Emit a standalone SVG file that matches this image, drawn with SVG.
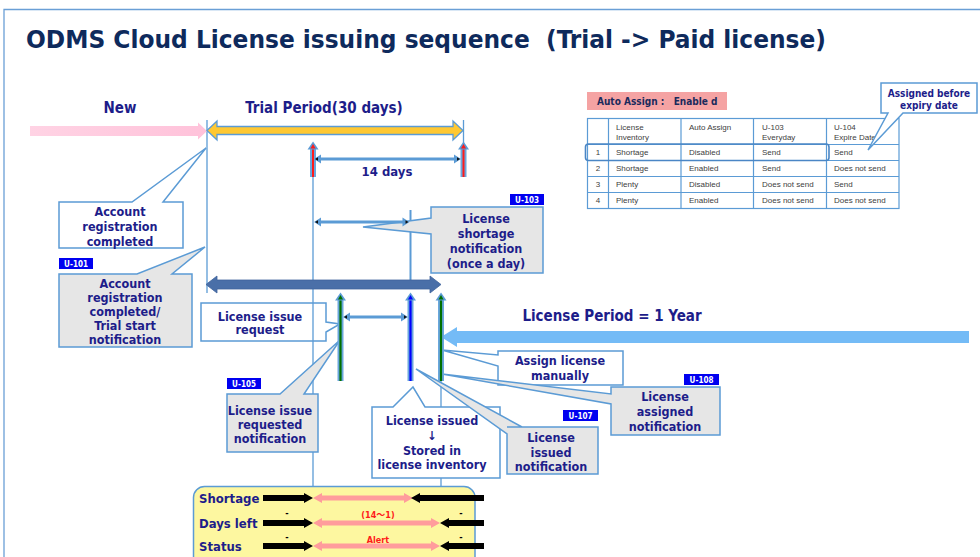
<svg xmlns="http://www.w3.org/2000/svg" width="980" height="557" viewBox="0 0 980 557">
<defs>
<style>
.t{font-family:"DejaVu Sans Condensed","DejaVu Sans",sans-serif;font-weight:bold;fill:#1d1d8a;text-anchor:middle}
.c{font-size:12.5px}
.h{font-size:15px}
.cw{fill:#fff;stroke:#5b9bd5;stroke-width:1.5}
.cg{fill:#e6e6e6;stroke:#5b9bd5;stroke-width:1.5}
.bd{fill:#0000f0}
.bt{font-family:"DejaVu Sans Condensed","DejaVu Sans",sans-serif;font-weight:bold;font-size:8px;fill:#fff;text-anchor:middle}
.ln{stroke:#5b9bd5;stroke-width:1.3;fill:none}
.hl{stroke:#5b9bd5;stroke-width:3;fill:none}
.ah{fill:#5b9bd5}
.tip{fill:#111}
.sh{fill:#6aa6dc}
.tb{font-family:"Liberation Sans",Arial,sans-serif;font-size:8px;fill:#404040}
.grid{stroke:#5b9bd5;stroke-width:1.2;fill:none}
.blk{fill:#000}
.pk{fill:#ff9c9c}
.rt{font-family:"DejaVu Sans Condensed","DejaVu Sans","Noto Sans CJK JP",sans-serif;font-weight:bold;font-size:9px;fill:#ff1a1a;text-anchor:middle}
.row{font-family:"DejaVu Sans Condensed","DejaVu Sans",sans-serif;font-weight:bold;font-size:13px;fill:#1d1d8a}
</style>
<linearGradient id="pg" x1="0" y1="0" x2="1" y2="0"><stop offset="0" stop-color="#ffd3e4"/><stop offset="1" stop-color="#ffc2da"/></linearGradient>
</defs>
<rect x="0" y="0" width="980" height="557" fill="#fff"/>
<path d="M4,557 V9.5 H980" stroke="#6a9fd6" stroke-width="1.3" fill="none"/>
<text x="26" y="48" font-family="'DejaVu Sans Condensed','DejaVu Sans',sans-serif" font-weight="bold" font-size="24" fill="#0e2a5c" textLength="800" lengthAdjust="spacingAndGlyphs" xml:space="preserve">ODMS Cloud License issuing sequence  (Trial -&gt; Paid license)</text>

<text class="t h" x="120" y="113">New</text>
<text class="t h" x="324" y="113">Trial Period(30 days)</text>
<text class="t h" x="612" y="321">License Period = 1 Year</text>
<text class="t" x="387" y="176" font-size="13">14 days</text>

<g id="connectors">
  <line class="ln" x1="207" y1="120" x2="207" y2="293"/>
  <line class="ln" x1="463.5" y1="120" x2="463.5" y2="177"/>
  <line class="ln" x1="313" y1="148" x2="313" y2="487"/>
  <line class="ln" x1="441" y1="300" x2="441" y2="487"/>
  <line x1="410.5" y1="210" x2="410.5" y2="281" stroke="#5b9bd5" stroke-width="2"/>
  <polygon points="30,126 198,126 198,122.5 207,131 198,139.5 198,136 30,136" fill="url(#pg)"/>
  <polygon points="207,130.5 217,121 217,126.5 453,126.5 453,121 463,130.5 453,140 453,134.5 217,134.5 217,140" fill="#ffc832" stroke="#5b9bd5" stroke-width="1.3"/>
  <polygon points="206,284.5 217,276 217,280 430,280 430,276 441,284.5 430,293 430,289 217,289 217,293" fill="#4a6fa8" stroke="#3f639c" stroke-width="0.8"/>
  <polygon points="441,337 457,327 457,331 969,331 969,343 457,343 457,347" fill="#74bbf6"/>
</g>

<g id="u101"><rect class="bd" x="59" y="258" width="34" height="11"/><text class="bt" x="76" y="266.5">U-101</text></g>
<g id="u103"><rect class="bd" x="510" y="194" width="34" height="11"/><text class="bt" x="527" y="202.5">U-103</text></g>
<g id="u105"><rect class="bd" x="227" y="378" width="34" height="11"/><text class="bt" x="244" y="386.5">U-105</text></g>
<g id="u107"><rect class="bd" x="563" y="410" width="35" height="11"/><text class="bt" x="580.5" y="418.5">U-107</text></g>
<g id="u108"><rect class="bd" x="684" y="374" width="35" height="11"/><text class="bt" x="701.5" y="382.5">U-108</text></g>

<g id="acct-reg">
  <path class="cw" d="M59,202 H132 L206,148 L163,202 H183 V248 H59 Z"/>
  <text class="t c" x="120" y="216">Account</text>
  <text class="t c" x="120" y="231">registration</text>
  <text class="t c" x="120" y="245.5">completed</text>
</g>
<g id="trial-start">
  <path class="cg" d="M59,274 H137 L205,247 L172,274 H192 V347 H59 Z"/>
  <text class="t c" x="125" y="288">Account</text>
  <text class="t c" x="125" y="302">registration</text>
  <text class="t c" x="125" y="316">completed/</text>
  <text class="t c" x="125" y="330">Trial start</text>
  <text class="t c" x="125" y="344">notification</text>
</g>
<g id="shortage-notif">
  <path class="cg" d="M431,207 H543 V273 H431 V234 L363,227 L431,218 Z"/>
  <text class="t c" x="486" y="223">License</text>
  <text class="t c" x="486" y="238">shortage</text>
  <text class="t c" x="486" y="253">notification</text>
  <text class="t c" x="486" y="268">(once a day)</text>
</g>
<g id="issue-request">
  <path class="cw" d="M201,303 H326 V322 L340,324 L326,332 V341 H201 Z"/>
  <line class="ln" x1="313" y1="303" x2="313" y2="341"/>
  <text class="t c" x="260" y="320.5">License issue</text>
  <text class="t c" x="260" y="334">request</text>
</g>
<g id="issue-requested-notif">
  <path class="cg" d="M227,394 H280 L340,340 L304,394 H318 V452 H227 Z"/>
  <text class="t c" x="270" y="414.5">License issue</text>
  <text class="t c" x="270" y="428.5">requested</text>
  <text class="t c" x="270" y="443">notification</text>
</g>
<g id="license-issued">
  <path class="cw" d="M372,407 H393 L413,387 L425,407 H500 V478 H372 Z"/>
  <text class="t c" x="432" y="425">License issued</text>
  <text class="t c" x="432" y="440">↓</text>
  <text class="t c" x="432" y="454.5">Stored in</text>
  <text class="t c" x="432" y="469">license inventory</text>
</g>
<g id="issued-notif">
  <path class="cg" d="M507,427 H598 V474 H507 V434 L416,369 L522,427 Z"/>
  <text class="t c" x="551" y="442">License</text>
  <text class="t c" x="551" y="456.5">issued</text>
  <text class="t c" x="551" y="471">notification</text>
</g>
<g id="assign-manually">
  <path class="cw" d="M498,351 H623 V385 H498 V366 L442,350 L498,355 Z"/>
  <text class="t c" x="560" y="365">Assign license</text>
  <text class="t c" x="560" y="380">manually</text>
</g>
<g id="assigned-notif">
  <path class="cg" d="M611,387 H720 V435 H611 V404 L442,374 L611,394 Z"/>
  <text class="t c" x="665" y="401">License</text>
  <text class="t c" x="665" y="416">assigned</text>
  <text class="t c" x="665" y="430.5">notification</text>
</g>

<g id="arrows">
  <rect class="sh" x="310" y="148" width="6" height="29"/><line x1="313" y1="146" x2="313" y2="177" stroke="#ff1a1a" stroke-width="2"/>
  <polygon class="ah" points="307.5,149.5 313,141.5 318.5,149.5"/><polygon points="310.5,148.5 313,144 315.5,148.5" fill="#ff1a1a"/>
  <rect class="sh" x="460.5" y="148" width="6" height="29"/><line x1="463.5" y1="146" x2="463.5" y2="177" stroke="#ff1a1a" stroke-width="2"/>
  <polygon class="ah" points="458,149.5 463.5,141.5 469,149.5"/><polygon points="461,148.5 463.5,144 466,148.5" fill="#ff1a1a"/>
  <line class="hl" x1="318" y1="159" x2="457" y2="159"/>
  <polygon class="ah" points="314,159 321,154.5 321,163.5"/><polygon class="tip" points="315,159 318,157.3 318,160.7"/>
  <polygon class="ah" points="461,159 454,154.5 454,163.5"/><polygon class="tip" points="460,159 457,157.3 457,160.7"/>
  <line class="hl" x1="318" y1="222" x2="405" y2="222"/>
  <polygon class="ah" points="314,222 321,217.5 321,226.5"/><polygon class="tip" points="315,222 318,220.3 318,223.7"/>
  <polygon class="ah" points="409.5,222 402.5,217.5 402.5,226.5"/><polygon class="tip" points="408.5,222 405.5,220.3 405.5,223.7"/>
  <rect class="sh" x="337.5" y="299" width="6" height="82"/><line x1="340.5" y1="297" x2="340.5" y2="381" stroke="#007000" stroke-width="2.2"/>
  <polygon class="ah" points="335,300.5 340.5,292.5 346,300.5"/><polygon points="338,299.5 340.5,295 343,299.5" fill="#007000"/>
  <rect class="sh" x="407.5" y="299" width="6" height="82"/><line x1="410.5" y1="297" x2="410.5" y2="381" stroke="#0000ff" stroke-width="2.2"/>
  <polygon class="ah" points="405,300.5 410.5,292.5 416,300.5"/><polygon points="408,299.5 410.5,295 413,299.5" fill="#0000ff"/>
  <rect class="sh" x="438" y="299" width="6" height="82"/><line x1="441" y1="297" x2="441" y2="381" stroke="#007000" stroke-width="2.2"/>
  <polygon class="ah" points="435.5,300.5 441,292.5 446.5,300.5"/><polygon points="438.5,299.5 441,295 443.5,299.5" fill="#007000"/>
  <line class="hl" x1="347" y1="317" x2="404" y2="317"/>
  <polygon class="ah" points="343,317 350,312.5 350,321.5"/><polygon class="tip" points="344,317 347,315.3 347,318.7"/>
  <polygon class="ah" points="408,317 401,312.5 401,321.5"/><polygon class="tip" points="407,317 404,315.3 404,318.7"/>
</g>

<g id="auto-assign-label">
  <rect x="587" y="92" width="140" height="18" fill="#f5a3a3"/>
  <text x="597" y="105" font-family="'DejaVu Sans Condensed','DejaVu Sans',sans-serif" font-weight="bold" font-size="10" fill="#1a2a5c" xml:space="preserve">Auto Assign :   Enable d</text>
</g>
<g id="table">
  <rect class="grid" x="587.5" y="118.5" width="311.5" height="90"/>
  <path class="grid" d="M608.5,118.5 V208.5 M681,118.5 V208.5 M753.5,118.5 V208.5 M826.5,118.5 V208.5 M587.5,144.5 H899 M587.5,160.5 H899 M587.5,176.5 H899 M587.5,192.5 H899"/>
  <rect x="585.5" y="144" width="243.5" height="16.5" rx="3" fill="none" stroke="#4a86c5" stroke-width="1.6"/>
  <g class="tb">
    <text x="616" y="130">License</text><text x="616" y="139.5">Inventory</text>
    <text x="689" y="130">Auto Assign</text>
    <text x="762" y="130">U-103</text><text x="762" y="139.5">Everyday</text>
    <text x="834" y="130">U-104</text><text x="834" y="139.5">Expire Date</text>
    <text x="598" y="155" text-anchor="middle">1</text><text x="616" y="155">Shortage</text><text x="689" y="155">Disabled</text><text x="762" y="155">Send</text><text x="834" y="155">Send</text>
    <text x="598" y="171" text-anchor="middle">2</text><text x="616" y="171">Shortage</text><text x="689" y="171">Enabled</text><text x="762" y="171">Send</text><text x="834" y="171">Does not send</text>
    <text x="598" y="187" text-anchor="middle">3</text><text x="616" y="187">Plenty</text><text x="689" y="187">Disabled</text><text x="762" y="187">Does not send</text><text x="834" y="187">Send</text>
    <text x="598" y="203" text-anchor="middle">4</text><text x="616" y="203">Plenty</text><text x="689" y="203">Enabled</text><text x="762" y="203">Does not send</text><text x="834" y="203">Does not send</text>
  </g>
</g>
<g id="assigned-before">
  <path class="cw" d="M881,83 H977 V113 H903 L868,150 L888,113 H881 Z"/>
  <text class="t" x="929" y="97" font-size="10">Assigned before</text>
  <text class="t" x="929" y="109" font-size="10">expiry date</text>
</g>

<g id="status-box">
  <rect x="193.5" y="486.5" width="281.5" height="90" rx="11" fill="#fdf7a0" stroke="#5b9bd5" stroke-width="1.5"/>
  <text class="row" x="199" y="502.5">Shortage</text>
  <text class="row" x="199" y="527.5">Days left</text>
  <text class="row" x="199" y="551">Status</text>
  <polygon class="blk" points="263,495 304,495 304,493 313,498 304,503 304,501 263,501"/>
  <polygon class="pk" points="313,498 322,493 322,495.5 404,495.5 404,493 413,498 404,503 404,500.5 322,500.5 322,503"/>
  <polygon class="blk" points="411,498 420,493 420,495 484,495 484,501 420,501 420,503"/>
  <polygon class="blk" points="263,520 304,520 304,518 313,523 304,528 304,526 263,526"/>
  <polygon class="pk" points="313,523 322,518 322,520.5 431,520.5 431,518 440,523 431,528 431,525.5 322,525.5 322,528"/>
  <polygon class="blk" points="440,523 449,518 449,520 484,520 484,526 449,526 449,528"/>
  <polygon class="blk" points="263,543 304,543 304,541 313,546 304,551 304,549 263,549"/>
  <polygon class="pk" points="313,546 322,541 322,543.5 431,543.5 431,541 440,546 431,551 431,548.5 322,548.5 322,551"/>
  <polygon class="blk" points="440,546 449,541 449,543 484,543 484,549 449,549 449,551"/>
  <text class="rt" x="287" y="516" style="fill:#000">-</text>
  <text class="rt" x="461" y="516" style="fill:#000">-</text>
  <text class="rt" x="287" y="540" style="fill:#000">-</text>
  <text class="rt" x="461" y="540" style="fill:#000">-</text>
  <text class="rt" x="378" y="518">(14～1)</text>
  <text class="rt" x="378" y="543">Alert</text>
</g>
</svg>
